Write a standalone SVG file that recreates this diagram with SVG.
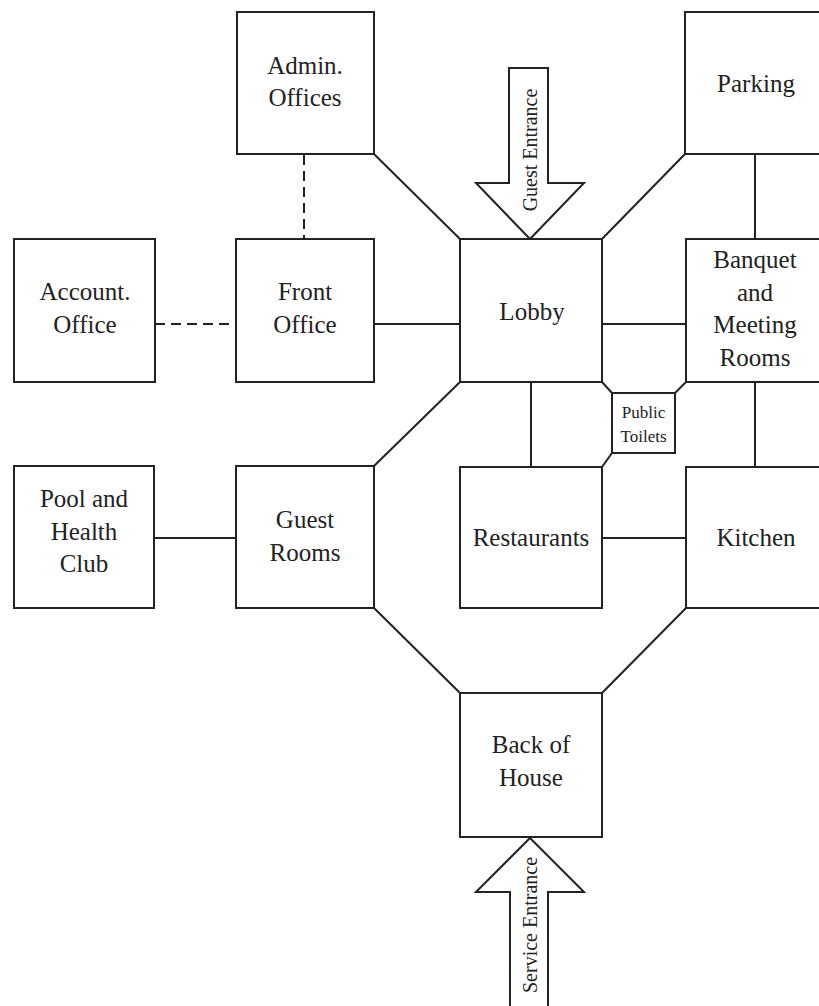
<svg xmlns="http://www.w3.org/2000/svg" width="819" height="1006" viewBox="0 0 819 1006">
<style>
.box{fill:#fff;stroke:#222;stroke-width:2}
.ln{stroke:#222;stroke-width:2;fill:none}
.dash{stroke:#222;stroke-width:2;fill:none;stroke-dasharray:10,6}
.arrow{fill:#fff;stroke:#222;stroke-width:2;stroke-linejoin:miter}
text{font-family:"Liberation Serif","DejaVu Serif",serif;fill:#222;text-anchor:middle}
.t{font-size:25px}
.s{font-size:17px}
.a{font-size:20px}
</style>
<rect width="819" height="1006" fill="#fff"/>
<g id="connectors">
<line class="dash" x1="304" y1="155" x2="304" y2="239"/>
<line class="dash" x1="155" y1="324" x2="236" y2="324"/>
<line class="ln" x1="374" y1="154" x2="460" y2="239"/>
<line class="ln" x1="685" y1="154" x2="602" y2="239"/>
<line class="ln" x1="755" y1="154" x2="755" y2="239"/>
<line class="ln" x1="374" y1="324" x2="460" y2="324"/>
<line class="ln" x1="602" y1="324" x2="686" y2="324"/>
<line class="ln" x1="531" y1="382" x2="531" y2="467"/>
<line class="ln" x1="602" y1="382" x2="612" y2="393"/>
<line class="ln" x1="686" y1="382" x2="675" y2="393"/>
<line class="ln" x1="612" y1="453" x2="602" y2="467"/>
<line class="ln" x1="755" y1="382" x2="755" y2="467"/>
<line class="ln" x1="460" y1="382" x2="374" y2="466"/>
<line class="ln" x1="154" y1="538" x2="236" y2="538"/>
<line class="ln" x1="602" y1="538" x2="686" y2="538"/>
<line class="ln" x1="374" y1="608" x2="460" y2="693"/>
<line class="ln" x1="686" y1="608" x2="602" y2="693"/>
</g>
<g id="admin"><rect class="box" x="237" y="12" width="137" height="142"/><text class="t" x="305" y="74">Admin.</text><text class="t" x="305" y="106">Offices</text></g>
<g id="guest-entrance"><polygon class="arrow" points="509,68 548,68 548,183 584,183 530,239 476,183 509,183"/><text class="a" transform="translate(537,150) rotate(-90)">Guest Entrance</text></g>
<g id="parking"><rect class="box" x="685" y="12" width="140" height="142"/><text class="t" x="756" y="92">Parking</text></g>
<g id="account"><rect class="box" x="14" y="239" width="141" height="143"/><text class="t" x="85" y="300">Account.</text><text class="t" x="85" y="333">Office</text></g>
<g id="front-office"><rect class="box" x="236" y="239" width="138" height="143"/><text class="t" x="305" y="300">Front</text><text class="t" x="305" y="333">Office</text></g>
<g id="lobby"><rect class="box" x="460" y="239" width="142" height="143"/><text class="t" x="532" y="320">Lobby</text></g>
<g id="banquet"><rect class="box" x="686" y="239" width="140" height="143"/><text class="t" x="755" y="268">Banquet</text><text class="t" x="755" y="301">and</text><text class="t" x="755" y="333">Meeting</text><text class="t" x="755" y="366">Rooms</text></g>
<g id="toilets"><rect class="box" x="612" y="393" width="63" height="60"/><text class="s" x="643.5" y="418">Public</text><text class="s" x="643.5" y="442">Toilets</text></g>
<g id="pool"><rect class="box" x="14" y="466" width="140" height="142"/><text class="t" x="84" y="507">Pool and</text><text class="t" x="84" y="540">Health</text><text class="t" x="84" y="572">Club</text></g>
<g id="guest-rooms"><rect class="box" x="236" y="466" width="138" height="142"/><text class="t" x="305" y="528">Guest</text><text class="t" x="305" y="561">Rooms</text></g>
<g id="restaurants"><rect class="box" x="460" y="467" width="142" height="141"/><text class="t" x="531" y="546">Restaurants</text></g>
<g id="kitchen"><rect class="box" x="686" y="467" width="140" height="141"/><text class="t" x="756" y="546">Kitchen</text></g>
<g id="back-of-house"><rect class="box" x="460" y="693" width="142" height="144"/><text class="t" x="531" y="753">Back of</text><text class="t" x="531" y="786">House</text></g>
<g id="service-entrance"><polygon class="arrow" points="530,838 584,892 548,892 548,1012 510,1012 510,892 476,892"/><text class="a" transform="translate(537,925) rotate(-90)">Service Entrance</text></g>
</svg>
